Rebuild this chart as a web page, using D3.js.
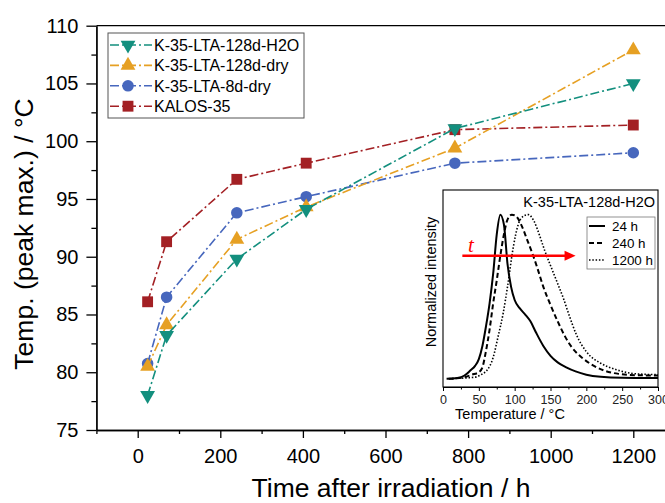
<!DOCTYPE html>
<html>
<head>
<meta charset="utf-8">
<script src="https://cdn.jsdelivr.net/npm/d3@7"></script>
<style>
  body { margin: 0; background: #fff; }
  svg { font-family: Arial, "Liberation Sans", sans-serif; }
</style>
</head>
<body>
<script>
// main chart data (peak max temperature vs time after irradiation)
const times = [24, 70, 240, 408, 768, 1200];
const h2o128 = [78.0, 83.2, 89.8, 94.1, 101.1, 105.0];
const dry128 = [80.5, 84.1, 91.5, 94.3, 99.4, 107.9];
const dry8 = [80.75, 86.5, 93.8, 95.2, 98.1, 99.0];
const kalos = [86.1, 91.3, 96.7, 98.1, 101.0, 101.4];

const seriesNames = ["K-35-LTA-128d-H2O", "K-35-LTA-128d-dry", "K-35-LTA-8d-dry", "KALOS-35"];
const seriesColors = ["#138f7e", "#e6a023", "#4767bd", "#a32024"];

const xTicks = [0, 200, 400, 600, 800, 1000, 1200];
const yTicks = [75, 80, 85, 90, 95, 100, 105, 110];

// inset: glow curves, temperature (°C) vs normalized intensity
const curve24 = [[5,0.0],[20,0.005],[30,0.02],[38,0.05],[45,0.08],[50,0.12],[55,0.2],[60,0.32],[65,0.46],[70,0.64],[75,0.88],[80,1.0],[85,0.94],[90,0.7],[95,0.56],[100,0.48],[107,0.43],[115,0.39],[122,0.35],[130,0.28],[140,0.2],[150,0.14],[160,0.1],[172,0.07],[185,0.045],[200,0.025],[220,0.012],[250,0.006],[300,0.005]];
const curve240 = [[8,0.0],[30,0.01],[40,0.025],[50,0.04],[55,0.07],[60,0.17],[65,0.3],[70,0.46],[75,0.6],[80,0.75],[85,0.88],[90,0.97],[96,1.0],[102,0.99],[110,0.93],[118,0.84],[125,0.76],[132,0.67],[140,0.56],[150,0.45],[160,0.35],[170,0.26],[180,0.19],[195,0.125],[210,0.08],[225,0.05],[245,0.03],[270,0.022],[300,0.02]];
const curve1200 = [[8,0.0],[30,0.005],[45,0.01],[55,0.03],[61,0.05],[70,0.13],[77,0.26],[84,0.4],[90,0.56],[98,0.8],[105,0.94],[112,0.99],[119,1.0],[127,0.96],[135,0.87],[142,0.78],[150,0.69],[160,0.58],[168,0.49],[175,0.4],[186,0.27],[200,0.165],[220,0.095],[242,0.055],[270,0.03],[300,0.025]];
const insetNames = ["24 h", "240 h", "1200 h"];
const insetTicks = [0, 50, 100, 150, 200, 250, 300];

const width = 665;
const height = 503;

const svg = d3.select("body").append("svg")
    .attr("width", width)
    .attr("height", height);

const x = d3.scaleLinear().domain([-100, 1300]).range([96.4, 674.6]);
const y = d3.scaleLinear().domain([75, 110]).range([430, 25.7]);

// axes
svg.append("g")
    .attr("transform", `translate(0,${y(75)})`)
    .call(d3.axisBottom(x).tickValues(d3.range(-100, 1400, 200)).tickSize(4).tickSizeOuter(0).tickFormat(""));
const xAxis = svg.append("g")
    .attr("transform", `translate(0,${y(75)})`)
    .call(d3.axisBottom(x).tickValues(xTicks).tickSize(8).tickSizeOuter(0).tickPadding(11).tickFormat(d3.format("d")));
xAxis.selectAll("text").attr("font-size", 20).attr("fill", "#000");

svg.append("g")
    .attr("transform", `translate(${x(-100)},0)`)
    .call(d3.axisLeft(y).tickValues(d3.range(77.5, 110, 5)).tickSize(5).tickSizeOuter(0).tickFormat(""));
const yAxis = svg.append("g")
    .attr("transform", `translate(${x(-100)},0)`)
    .call(d3.axisLeft(y).tickValues(yTicks).tickSize(10).tickSizeOuter(0).tickPadding(8));
yAxis.selectAll("text").attr("font-size", 20).attr("fill", "#000");
svg.selectAll(".domain, .tick line").attr("stroke", "#000").attr("stroke-width", 1.3);

// top frame line
svg.append("line")
    .attr("x1", x(-100)).attr("x2", x(1300))
    .attr("y1", y(110)).attr("y2", y(110))
    .attr("stroke", "#000").attr("stroke-width", 1.3);

svg.append("text")
    .attr("x", 391).attr("y", 497)
    .attr("text-anchor", "middle")
    .attr("font-size", 26.5)
    .text("Time after irradiation / h");

svg.append("text")
    .attr("transform", `translate(33,234) rotate(-90)`)
    .attr("text-anchor", "middle")
    .attr("font-size", 26.5)
    .text("Temp. (peak max.) / °C");

// series
const allSeries = [h2o128, dry128, dry8, kalos];
const symbols = [
    d3.symbol().type(d3.symbolTriangle).size(95),
    d3.symbol().type(d3.symbolTriangle).size(95),
    d3.symbol().type(d3.symbolCircle).size(105),
    d3.symbol().type(d3.symbolSquare).size(118)
];
const rotations = [180, 0, 0, 0];

const line = d3.line()
    .x(d => x(d[0]))
    .y(d => y(d[1]));

// draw back to front so the first legend entry sits on top
for (let i = allSeries.length - 1; i >= 0; i--) {
    const pts = times.map((t, j) => [t, allSeries[i][j]]);
    svg.append("path")
        .datum(pts)
        .attr("d", line)
        .attr("fill", "none")
        .attr("stroke", seriesColors[i])
        .attr("stroke-width", 1.6)
        .attr("stroke-dasharray", "9,3,2,3");
    svg.selectAll(null)
        .data(pts)
        .enter()
        .append("path")
        .attr("d", symbols[i])
        .attr("transform", d => `translate(${x(d[0])},${y(d[1])}) rotate(${rotations[i]})`)
        .attr("fill", seriesColors[i]);
}

// legend
const legend = svg.append("g");
legend.append("rect")
    .attr("x", 108).attr("y", 33)
    .attr("width", 196).attr("height", 85)
    .attr("fill", "#fff")
    .attr("stroke", "#555").attr("stroke-width", 1);
seriesNames.forEach((name, i) => {
    const ly = 45 + i * 20.4;
    legend.append("line")
        .attr("x1", 110).attr("x2", 152)
        .attr("y1", ly).attr("y2", ly)
        .attr("stroke", seriesColors[i])
        .attr("stroke-width", 1.6)
        .attr("stroke-dasharray", "9,3,2,3");
    legend.append("path")
        .attr("d", symbols[i])
        .attr("transform", `translate(128,${ly}) rotate(${rotations[i]})`)
        .attr("fill", seriesColors[i]);
    legend.append("text")
        .attr("x", 154).attr("y", ly + 6)
        .attr("font-size", 16)
        .text(name);
});

// inset
const ix = d3.scaleLinear().domain([0, 300]).range([443, 658]);
const iy = d3.scaleLinear().domain([-0.05, 1.15]).range([387, 190]);
const inset = svg.append("g");

inset.append("rect")
    .attr("x", ix(0)).attr("y", iy(1.15))
    .attr("width", ix(300) - ix(0)).attr("height", iy(-0.05) - iy(1.15))
    .attr("fill", "#fff")
    .attr("stroke", "#000").attr("stroke-width", 1.1);

inset.append("g")
    .attr("transform", `translate(0,${iy(-0.05)})`)
    .call(d3.axisBottom(ix).tickValues(d3.range(25, 300, 50)).tickSize(2.5).tickSizeOuter(0).tickFormat(""));
const insetAxis = inset.append("g")
    .attr("transform", `translate(0,${iy(-0.05)})`)
    .call(d3.axisBottom(ix).tickValues(insetTicks).tickSize(4).tickSizeOuter(0).tickPadding(4));
insetAxis.selectAll("text").attr("font-size", 12.5).attr("fill", "#222");
inset.selectAll(".domain, .tick line").attr("stroke", "#000");

inset.append("text")
    .attr("x", 510).attr("y", 419)
    .attr("text-anchor", "middle")
    .attr("font-size", 14.5)
    .text("Temperature / °C");
inset.append("text")
    .attr("transform", `translate(436,282) rotate(-90)`)
    .attr("text-anchor", "middle")
    .attr("font-size", 14.5)
    .text("Normalized intensity");

const iline = d3.line()
    .x(d => ix(d[0]))
    .y(d => iy(d[1]))
    .curve(d3.curveMonotoneX);

const insetCurves = [curve24, curve240, curve1200];
const insetDash = [null, "5,3", "1.5,1.8"];
const insetWidth = [2, 2, 1.6];
insetCurves.forEach((c, i) => {
    inset.append("path")
        .datum(c)
        .attr("d", iline)
        .attr("fill", "none")
        .attr("stroke", "#000")
        .attr("stroke-width", insetWidth[i])
        .attr("stroke-dasharray", insetDash[i]);
});

inset.append("text")
    .attr("x", 655).attr("y", 207)
    .attr("text-anchor", "end")
    .attr("font-size", 14.5)
    .text("K-35-LTA-128d-H2O");

inset.append("rect")
    .attr("x", 587).attr("y", 217)
    .attr("width", 68).attr("height", 52)
    .attr("fill", "#fff")
    .attr("stroke", "#777").attr("stroke-width", 0.8);
insetNames.forEach((name, i) => {
    const ly = 226 + i * 17;
    inset.append("line")
        .attr("x1", 589).attr("x2", 605)
        .attr("y1", ly).attr("y2", ly)
        .attr("stroke", "#000")
        .attr("stroke-width", insetWidth[i])
        .attr("stroke-dasharray", insetDash[i]);
    inset.append("text")
        .attr("x", 612).attr("y", ly + 5)
        .attr("font-size", 13.4)
        .text(name);
});

// red time arrow
const arrowY = 0.75;
inset.append("line")
    .attr("x1", ix(27)).attr("x2", ix(172))
    .attr("y1", iy(arrowY)).attr("y2", iy(arrowY))
    .attr("stroke", "#f00").attr("stroke-width", 2.5);
inset.append("path")
    .attr("d", `M${ix(185)},${iy(arrowY)} L${ix(185) - 11},${iy(arrowY) - 5} L${ix(185) - 11},${iy(arrowY) + 5} Z`)
    .attr("fill", "#f00");
inset.append("text")
    .attr("x", ix(35)).attr("y", iy(arrowY) - 4)
    .attr("font-family", "'Liberation Serif', 'Times New Roman', serif")
    .attr("font-style", "italic")
    .attr("font-size", 21)
    .attr("fill", "#f00")
    .text("t");
</script>
</body>
</html>
